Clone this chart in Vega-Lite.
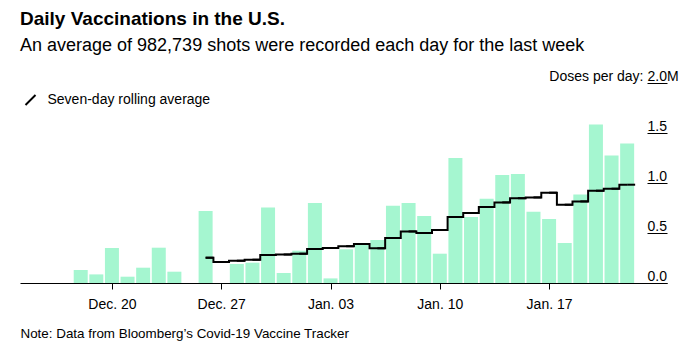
{
  "$schema": "https://vega.github.io/schema/vega-lite/v6.json",
  "width": 647,
  "height": 200,
  "autosize": {"type": "none"},
  "padding": {"left": 20, "top": 83, "right": 25, "bottom": 74},
  "background": "white",
  "config": {"view": {"stroke": null}, "font": "Liberation Sans"},
  "title": {
    "text": "Daily Vaccinations in the U.S.",
    "subtitle": "An average of 982,739 shots were recorded each day for the last week",
    "anchor": "start",
    "frame": "group",
    "font": "Liberation Sans",
    "subtitleFont": "Liberation Sans",
    "fontSize": 19,
    "fontWeight": "bold",
    "color": "#000",
    "subtitleFontSize": 18,
    "subtitleColor": "#000",
    "subtitlePadding": 8,
    "offset": 14
  },
  "datasets": {
    "daily": [
      {"date": "2020-12-18", "value": 0.13},
      {"date": "2020-12-19", "value": 0.086},
      {"date": "2020-12-20", "value": 0.35},
      {"date": "2020-12-21", "value": 0.063},
      {"date": "2020-12-22", "value": 0.153},
      {"date": "2020-12-23", "value": 0.353},
      {"date": "2020-12-24", "value": 0.113},
      {"date": "2020-12-26", "value": 0.72},
      {"date": "2020-12-28", "value": 0.19},
      {"date": "2020-12-29", "value": 0.203},
      {"date": "2020-12-30", "value": 0.756},
      {"date": "2020-12-31", "value": 0.10},
      {"date": "2021-01-01", "value": 0.323},
      {"date": "2021-01-02", "value": 0.80},
      {"date": "2021-01-03", "value": 0.046},
      {"date": "2021-01-04", "value": 0.337},
      {"date": "2021-01-05", "value": 0.40},
      {"date": "2021-01-06", "value": 0.43},
      {"date": "2021-01-07", "value": 0.773},
      {"date": "2021-01-08", "value": 0.80},
      {"date": "2021-01-09", "value": 0.67},
      {"date": "2021-01-10", "value": 0.293},
      {"date": "2021-01-11", "value": 1.25},
      {"date": "2021-01-12", "value": 0.66},
      {"date": "2021-01-13", "value": 0.843},
      {"date": "2021-01-14", "value": 1.08},
      {"date": "2021-01-15", "value": 1.09},
      {"date": "2021-01-16", "value": 0.713},
      {"date": "2021-01-17", "value": 0.64},
      {"date": "2021-01-18", "value": 0.40},
      {"date": "2021-01-19", "value": 0.886},
      {"date": "2021-01-20", "value": 1.586},
      {"date": "2021-01-21", "value": 1.276},
      {"date": "2021-01-22", "value": 1.396}
    ],
    "rolling": [
      {"date": "2020-12-26", "value": 0.253},
      {"date": "2020-12-27", "value": 0.21},
      {"date": "2020-12-28", "value": 0.223},
      {"date": "2020-12-29", "value": 0.233},
      {"date": "2020-12-30", "value": 0.28},
      {"date": "2020-12-31", "value": 0.285},
      {"date": "2021-01-01", "value": 0.293},
      {"date": "2021-01-02", "value": 0.34},
      {"date": "2021-01-03", "value": 0.35},
      {"date": "2021-01-04", "value": 0.368},
      {"date": "2021-01-05", "value": 0.39},
      {"date": "2021-01-06", "value": 0.347},
      {"date": "2021-01-07", "value": 0.45},
      {"date": "2021-01-08", "value": 0.516},
      {"date": "2021-01-09", "value": 0.50},
      {"date": "2021-01-10", "value": 0.53},
      {"date": "2021-01-11", "value": 0.66},
      {"date": "2021-01-12", "value": 0.70},
      {"date": "2021-01-13", "value": 0.76},
      {"date": "2021-01-14", "value": 0.806},
      {"date": "2021-01-15", "value": 0.848},
      {"date": "2021-01-16", "value": 0.856},
      {"date": "2021-01-17", "value": 0.903},
      {"date": "2021-01-18", "value": 0.783},
      {"date": "2021-01-19", "value": 0.816},
      {"date": "2021-01-20", "value": 0.923},
      {"date": "2021-01-21", "value": 0.943},
      {"date": "2021-01-22", "value": 0.983}
    ]
  },
  "layer": [
    {
      "data": {"name": "daily"},
      "mark": {"type": "bar", "width": 14, "color": "#a5f6d0"},
      "encoding": {
        "x": {
          "field": "date",
          "type": "temporal",
          "scale": {
            "type": "utc",
            "domain": [
              {"year": 2020, "month": 12, "date": 14, "hours": 10, "minutes": 22, "utc": true},
              {"year": 2021, "month": 1, "date": 24, "hours": 5, "minutes": 34, "utc": true}
            ]
          },
          "axis": {
            "values": [
              {"year": 2020, "month": 12, "date": 20, "utc": true},
              {"year": 2020, "month": 12, "date": 27, "utc": true},
              {"year": 2021, "month": 1, "date": 3, "utc": true},
              {"year": 2021, "month": 1, "date": 10, "utc": true},
              {"year": 2021, "month": 1, "date": 17, "utc": true}
            ],
            "labelExpr": "utcFormat(datum.value, '%b. %d')",
            "grid": false,
            "domainColor": "#000",
            "domainWidth": 1,
            "tickColor": "#000",
            "tickSize": 6,
            "labelFontSize": 14,
            "labelColor": "#000",
            "labelPadding": 8,
            "title": "Note: Data from Bloomberg’s Covid-19 Vaccine Tracker",
            "titleFontSize": 13.4,
            "titleFontWeight": "normal",
            "titleColor": "#000",
            "titleAlign": "left",
            "titleBaseline": "alphabetic",
            "titleX": 0,
            "titleY": 54
          }
        },
        "y": {
          "field": "value",
          "type": "quantitative",
          "scale": {"domain": [0, 2]},
          "axis": {
            "orient": "right",
            "offset": -20,
            "values": [0, 0.5, 1, 1.5, 2],
            "domain": false,
            "grid": false,
            "tickSize": 20,
            "tickColor": "#000",
            "labelAlign": "left",
            "labelPadding": -20,
            "labelBaseline": "alphabetic",
            "labelOffset": -3,
            "labelFontSize": 14,
            "labelColor": "#000",
            "labelExpr": "datum.value == 2 ? '2.0M' : format(datum.value, '.1f')",
            "title": "Doses per day:",
            "titleAngle": 0,
            "titleAlign": "right",
            "titleBaseline": "alphabetic",
            "titleX": -4,
            "titleY": -3,
            "titleFontSize": 14,
            "titleFontWeight": "normal",
            "titleColor": "#000"
          }
        }
      }
    },
    {
      "data": {"name": "rolling"},
      "mark": {"type": "line", "interpolate": "step", "strokeWidth": 2},
      "encoding": {
        "x": {"field": "date", "type": "temporal"},
        "y": {"field": "value", "type": "quantitative"},
        "stroke": {
          "datum": "Seven-day rolling average",
          "type": "nominal",
          "scale": {"range": ["#000"]},
          "legend": {
            "orient": "none",
            "legendX": 3.5,
            "legendY": 10,
            "title": null,
            "padding": 0,
            "symbolType": "M-1,1L1,-1",
            "symbolSize": 100,
            "symbolStrokeWidth": 2,
            "symbolStrokeColor": "#000",
            "labelFontSize": 14,
            "labelColor": "#000",
            "labelOffset": 10,
            "labelLimit": 400
          }
        }
      }
    },
    {
      "data": {"name": "rolling"},
      "mark": {"type": "rule", "x2Offset": 8, "strokeWidth": 2, "color": "#000"},
      "encoding": {
        "x": {"field": "date", "type": "temporal"},
        "x2": {"field": "date"},
        "y": {"field": "value", "type": "quantitative"}
      }
    }
  ]
}
